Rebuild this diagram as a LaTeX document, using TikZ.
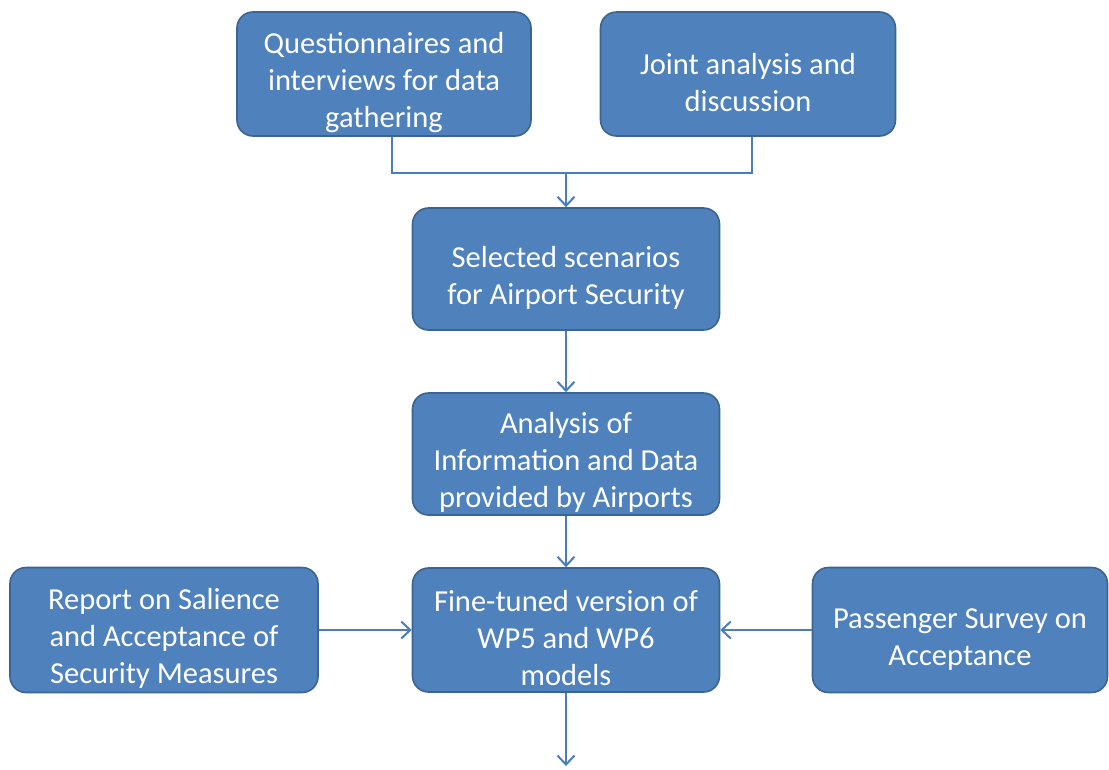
\documentclass[tikz,border=0pt]{standalone}
\usepackage{fontspec}
\setmainfont{Carlito}
\usetikzlibrary{arrows.meta}
\definecolor{boxfill}{HTML}{4F81BD}
\definecolor{boxline}{HTML}{3A6491}
\definecolor{conn}{HTML}{4A7EBB}
\newcommand{\tstrut}{\rule{0pt}{38pt}}
\tikzset{
  box/.style={draw=boxline, line width=1.6pt, fill=boxfill, rounded corners=16pt,
    text=white, align=center, font=\fontsize{30.5}{37}\selectfont, inner sep=0pt},
  conn/.style={draw=conn, line width=2pt},
  arr/.style={conn, -{Straight Barb[length=9pt,width=17pt,line width=2pt]}}
}
\begin{document}
\begin{tikzpicture}[x=1pt,y=-1pt]
\useasboundingbox (0,0) rectangle (1109,769);
\node[box, minimum width=294, minimum height=124] (q) at (384,74) {\tstrut Questionnaires and\\interviews for data\\gathering};
\node[box, minimum width=295, minimum height=124] (j) at (748,74) {\tstrut Joint analysis and\\discussion};
\node[box, minimum width=307, minimum height=122] (s) at (566,269) {\tstrut Selected scenarios\\for Airport Security};
\node[box, minimum width=307, minimum height=122] (a) at (566,454) {\tstrut Analysis of\\Information and Data\\provided by Airports};
\node[box, minimum width=307, minimum height=124] (f) at (566,630) {\tstrut Fine-tuned version of\\WP5 and WP6\\models};
\node[box, minimum width=308, minimum height=125] (r) at (164,630) {\tstrut Report on Salience\\and Acceptance of\\Security Measures};
\node[box, minimum width=295, minimum height=125] (p) at (960,630) {\tstrut Passenger Survey on\\Acceptance};
\coordinate (m) at (566,173);
\coordinate (end) at (566,766);
\draw[conn] ([xshift=8pt]q.south) |- (m) -| ([xshift=4pt]j.south);
\draw[arr] (m) -- (s.north);
\draw[arr] (s) -- (a);
\draw[arr] (a) -- (f);
\draw[arr] (r) -- (f);
\draw[arr] (p) -- (f);
\draw[arr] (f.south) -- (end);
\end{tikzpicture}
\end{document}
